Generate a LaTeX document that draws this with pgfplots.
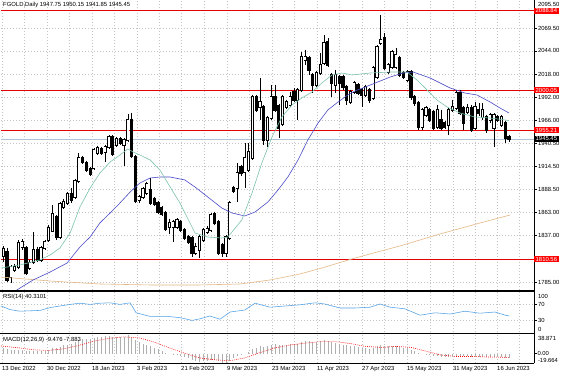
\documentclass[border=0pt]{standalone}
\usepackage{pgfplots}
\pgfplotsset{compat=1.18}
\usepackage{pgfplotstable}
\usepackage{fontspec}
\setmainfont{Liberation Sans}
\newcommand{\fs}{\fontsize{5.9pt}{6.5pt}\selectfont}
\definecolor{maTeal}{RGB}{125,195,175}
\definecolor{maBlue}{RGB}{75,75,200}
\definecolor{maTan}{RGB}{228,185,135}
\definecolor{rsiBlue}{RGB}{80,160,230}
\definecolor{gridc}{RGB}{195,195,195}
\definecolor{macdGray}{RGB}{175,175,175}
\definecolor{bidc}{RGB}{175,195,215}

\pgfplotstableread{
i O H L C
0 1814.2 1825.4 1807.5 1822.0
1 1818.7 1823.1 1785.1 1787.3
2 1790.7 1804.1 1783.9 1801.9
3 1798.5 1805.2 1796.3 1801.9
4 1801.9 1832.1 1799.6 1828.7
5 1824.3 1833.2 1820.9 1829.9
6 1823.1 1825.4 1792.9 1795.1
7 1800.7 1809.7 1798.5 1806.3
8 1807.5 1841.1 1805.2 1820.9
9 1820.9 1824.3 1807.5 1809.7
10 1809.7 1825.4 1807.5 1823.1
11 1823.1 1832.1 1820.9 1829.9
12 1832.1 1848.9 1829.9 1845.5
13 1842.2 1871.3 1841.1 1861.2
14 1857.9 1860.1 1832.1 1835.5
15 1835.5 1874.7 1833.2 1872.4
16 1869.1 1878.0 1866.8 1874.7
17 1873.5 1885.9 1871.3 1883.6
18 1883.6 1890.3 1873.5 1876.9
19 1880.3 1900.4 1878.0 1898.2
20 1898.2 1929.5 1895.9 1923.9
21 1923.9 1926.2 1917.2 1919.5
22 1918.3 1920.6 1908.3 1910.5
23 1911.6 1913.9 1903.8 1906.0
24 1912.7 1935.1 1910.5 1932.9
25 1929.5 1937.4 1927.3 1935.1
26 1934.0 1936.3 1927.3 1929.5
27 1930.7 1938.5 1919.5 1936.3
28 1936.3 1949.7 1934.0 1947.5
29 1947.5 1949.7 1926.2 1928.4
30 1938.5 1947.5 1936.3 1945.2
31 1945.2 1947.5 1938.5 1940.7
32 1938.5 1946.3 1915.0 1944.1
33 1944.1 1973.2 1941.9 1966.5
34 1966.5 1974.3 1923.9 1926.2
35 1925.1 1927.3 1873.5 1875.8
36 1876.9 1882.5 1873.5 1880.3
37 1880.3 1891.5 1878.0 1889.2
38 1884.7 1897.1 1882.5 1894.8
39 1888.1 1901.5 1871.3 1873.5
40 1878.0 1880.3 1870.2 1872.4
41 1873.5 1875.8 1861.2 1863.5
42 1867.9 1870.2 1859.0 1861.2
43 1862.3 1864.6 1842.2 1844.4
44 1846.6 1855.6 1838.8 1851.1
45 1846.6 1854.5 1829.9 1852.3
46 1846.6 1856.7 1844.4 1854.5
47 1852.3 1854.5 1841.1 1843.3
48 1843.3 1845.5 1832.1 1834.3
49 1835.5 1837.7 1827.6 1829.9
50 1834.3 1836.6 1813.1 1817.5
51 1817.5 1828.7 1815.3 1824.3
52 1820.9 1837.7 1811.9 1835.5
53 1832.1 1845.5 1829.9 1843.3
54 1841.1 1847.8 1838.8 1844.4
55 1843.3 1862.3 1841.1 1860.1
56 1861.2 1863.5 1848.9 1851.1
57 1852.3 1854.5 1815.3 1817.5
58 1826.5 1828.7 1813.1 1817.5
59 1817.5 1837.7 1813.1 1835.5
60 1834.3 1875.8 1832.1 1873.5
61 1890.3 1892.6 1884.7 1887.0
62 1890.3 1918.3 1874.7 1907.1
63 1913.9 1916.1 1903.8 1907.1
64 1908.3 1940.7 1890.3 1923.9
65 1910.5 1940.7 1908.3 1930.7
66 1923.9 1994.5 1921.7 1992.3
67 1992.3 1994.5 1975.5 1977.7
68 1981.1 2013.5 1966.5 1986.7
69 1981.1 1983.3 1938.5 1944.1
70 1944.1 1971.0 1936.3 1968.7
71 1968.7 2005.7 1966.5 1992.3
72 1992.3 2005.7 1975.5 1977.7
73 1982.2 1984.4 1946.3 1957.5
74 1962.0 1994.5 1960.0 1992.3
75 1981.1 1988.9 1978.8 1986.7
76 1983.3 1997.9 1981.1 1992.3
77 1997.9 2002.3 1986.7 1988.9
78 1988.9 2002.3 1966.5 2000.1
79 2000.1 2042.7 1997.9 2037.1
80 2033.7 2044.9 2028.1 2037.1
81 2035.9 2038.2 2016.9 2022.5
82 2016.9 2019.1 1996.7 2005.7
83 2005.7 2021.4 2003.5 2019.1
84 2019.1 2041.5 2016.9 2028.1
85 2030.3 2061.7 2028.1 2052.7
86 2053.9 2058.3 2025.9 2028.1
87 2016.9 2019.1 1992.3 2007.9
88 2005.7 2022.5 1996.7 2016.9
89 2014.6 2016.9 1983.3 2007.9
90 2014.6 2016.9 2000.1 2003.5
91 2003.5 2005.7 1983.3 1988.9
92 1986.7 2000.1 1984.4 1997.9
93 1997.9 2010.2 1995.6 2007.9
94 2005.7 2007.9 1994.5 1996.7
95 2000.1 2002.3 1981.1 1994.5
96 1994.5 2005.7 1992.3 2003.5
97 2000.1 2002.3 1985.5 1988.9
98 1991.1 2027.0 1988.9 2024.7
99 2014.6 2050.5 2012.4 2048.3
100 2052.7 2084.1 2050.5 2056.1
101 2058.3 2063.9 2022.5 2024.7
102 2020.3 2030.3 2018.0 2028.1
103 2025.9 2044.9 2023.6 2042.7
104 2025.9 2047.1 2023.6 2039.3
105 2035.9 2038.2 2014.6 2016.9
106 2019.1 2021.4 2012.4 2014.6
107 2011.3 2022.5 2009.1 2020.3
108 2020.3 2022.5 1988.9 1992.3
109 1992.3 1994.5 1982.2 1985.5
110 1985.5 1987.8 1955.3 1958.7
111 1958.7 1979.9 1955.3 1977.7
112 1972.1 1982.2 1969.9 1979.9
113 1977.7 1979.9 1964.3 1966.5
114 1975.5 1977.7 1955.3 1957.5
115 1958.7 1983.3 1956.4 1977.7
116 1966.5 1977.7 1955.3 1957.5
117 1963.1 1965.4 1956.4 1958.7
118 1960.9 1979.9 1949.7 1977.7
119 1977.7 1988.9 1975.5 1981.1
120 1979.9 2000.1 1977.7 1996.7
121 1996.7 2000.1 1972.1 1974.3
122 1979.9 1982.2 1955.3 1963.1
123 1975.5 1984.4 1973.2 1979.9
124 1979.9 1983.3 1953.1 1955.3
125 1957.5 1986.7 1955.3 1981.1
126 1977.7 1985.5 1971.0 1974.3
127 1969.9 1985.5 1966.5 1977.7
128 1969.9 1972.1 1951.9 1955.3
129 1966.5 1974.3 1963.1 1972.1
130 1957.5 1974.3 1936.3 1972.1
131 1969.9 1972.1 1964.3 1966.5
132 1960.9 1972.1 1958.7 1969.9
133 1963.1 1965.4 1940.8 1946.3
134 1947.75 1950.15 1941.85 1945.45
}\candles

\pgfplotstableread{
i m
0 12
1 10
2 8
3 7
4 8
5 8
6 6
7 5
8 6
9 5
10 5
11 6
12 8
13 11
14 11
15 14
16 17
17 19
18 21
19 24
20 28
21 30
22 31
23 31
24 33
25 35
26 35
27 36
28 37
29 35
30 35
31 34
32 34
33 38.871
34 35
35 28
36 24
37 21
38 19
39 15
40 12
41 9
42 6
43 2
44 0
45 -2
46 -3
47 -4
48 -7
49 -10
50 -14
51 -16
52 -17
53 -16
54 -15
55 -13
56 -13
57 -16
58 -19.664
59 -19
60 -15
61 -10
62 -6
63 -3
64 0
65 3
66 9
67 12
68 15
69 14
70 16
71 19
72 20
73 18
74 19
75 19
76 20
77 20
78 20
79 24
80 26
81 26
82 25
83 25
84 26
85 28
86 27
87 24
88 23
89 21
90 19
91 17
92 16
93 15
94 13
95 12
96 11
97 10
98 12
99 15
100 17
101 15
102 15
103 16
104 16
105 14
106 12
107 11
108 8
109 5
110 1
111 0
112 -1
113 -3
114 -5
115 -5
116 -7
117 -8
118 -7
119 -6
120 -4
121 -5
122 -6
123 -6
124 -8
125 -7
126 -7
127 -7
128 -8
129 -8
130 -8
131 -8
132 -8
133 -9
134 -9.476
}\macd

\pgfplotsset{
  mt/.style={
    scale only axis, width=533pt, xmin=-0.61, xmax=140.62,
    axis line style={draw=none}, clip=true,
    xtick={-0.34,11.58,23.50,35.43,47.09,59.28,71.20,83.12,95.05,106.97,119.16,130.82},
    minor xtick={5.62,17.54,29.47,41.26,53.19,65.24,77.16,89.09,101.01,113.07,124.99,136.8},
    xticklabels={}, xmajorgrids, xminorgrids,
    major grid style={gridc, dash pattern=on 1pt off 2pt, line width=0.4pt},
    minor grid style={gridc, dash pattern=on 1pt off 2pt, line width=0.4pt},
    xtick style={draw=none}, minor tick length=0pt,
    tick label style={font=\fs},
    /pgf/number format/assume math mode=true,
    ytick pos=right, yticklabel pos=right, tick align=outside,
    ytick style={black, line width=0.5pt}, major tick length=3pt,
    yticklabel style={anchor=west, inner xsep=0.8pt},
  },
  cndl/.style={only marks, mark=none, mark size=0pt, mark options={draw=none, fill=none}, forget plot,
    error bars/y dir=both, error bars/y explicit, error bars/error mark=none},
}

\begin{document}
\begin{tikzpicture}[x=1pt,y=1pt]
\useasboundingbox (0,0) rectangle (564,376);
\fill[white] (0,0) rectangle (564,376);

% ---------------- main price panel ----------------
\begin{axis}[mt, at={(1pt,375pt)}, anchor=north west, height=289pt,
  ymin=1776.06, ymax=2099.74,
  ytick={1785,1837,1863,1888.5,1914.5,1940.5,1966,1992,2018,2044,2069.5},
  ymajorgrids,
  yticklabel={\pgfmathprintnumber[fixed,fixed zerofill,precision=2,1000 sep={}]{\tick}},
]
% bid line and horizontal levels
\addplot[bidc, line width=0.5pt] coordinates {(-1,1945.45) (141,1945.45)};
\addplot[red!90!black, line width=0.7pt] coordinates {(-1,2088.84) (141,2088.84)};
\addplot[red!90!black, line width=0.7pt] coordinates {(-1,2000.05) (141,2000.05)};
\addplot[red!90!black, line width=0.7pt] coordinates {(-1,1955.21) (141,1955.21)};
\addplot[red!90!black, line width=0.7pt] coordinates {(-1,1810.56) (141,1810.56)};
% wicks
\addplot[black, cndl, error bars/error bar style={black, line width=0.6pt}]
  table[x=i, y=H, y error plus expr=0, y error minus expr=\thisrow{H}-\thisrow{L}] {\candles};
% body outlines / bear bodies
\addplot[black, cndl, error bars/error bar style={black, line width=3.2pt, line cap=butt}]
  table[x=i, y expr={max(\thisrow{O},\thisrow{C})+0.9}, y error plus expr=0, y error minus expr={abs(\thisrow{O}-\thisrow{C})+1.8}] {\candles};
% bull bodies (white inside)
\addplot[white, cndl, error bars/error bar style={white, line width=1.6pt, line cap=butt}]
  table[x=i, y=C, y error plus expr=0, y error minus expr={max(\thisrow{C}-\thisrow{O},0)}] {\candles};
% moving averages
\addplot[maTan, line width=0.6pt] coordinates {(-0.6,1790.6) (12.4,1786.1) (25.6,1782.8) (38.9,1781.7) (52.1,1781.7) (62.7,1782.8) (70.7,1787.3) (78.6,1794.0) (84.4,1800.7) (93.2,1811.9) (105.1,1825.4) (115.7,1838.8) (126.3,1851.1) (134.3,1860.1)};
\addplot[maBlue, line width=0.6pt] coordinates {(1.8,1769.4) (3.6,1776.1) (7.9,1787.3) (12.4,1796.2) (16.9,1806.3) (20.3,1824.2) (23.0,1835.4) (25.6,1851.2) (28.3,1862.3) (30.9,1873.5) (33.6,1885.8) (36.2,1895.9) (38.9,1901.5) (41.5,1902.6) (44.2,1902.6) (46.8,1900.4) (48.1,1899.3) (50.8,1891.4) (54.2,1880.2) (57.9,1867.9) (60.6,1862.3) (64.0,1859.0) (66.7,1863.4) (70.1,1874.6) (72.8,1888.1) (75.4,1902.6) (78.1,1921.7) (80.7,1944.1) (83.4,1963.1) (86.0,1977.7) (88.7,1986.6) (91.3,1994.5) (93.2,1999.0) (97.2,2005.6) (102.5,2014.6) (105.9,2019.1) (108.6,2020.2) (113.1,2013.5) (118.4,2002.3) (122.3,1996.7) (125.5,1994.5) (129.0,1986.6) (131.6,1979.9) (134.0,1974.3)};
\addplot[maTeal, line width=0.6pt] coordinates {(-0.6,1800.7) (4.4,1804.1) (9.7,1809.7) (12.4,1815.3) (15.0,1823.1) (17.7,1839.9) (20.3,1869.0) (23.0,1890.3) (25.6,1907.1) (28.3,1919.4) (30.9,1927.3) (33.0,1934.0) (34.4,1930.6) (36.2,1927.3) (38.9,1921.7) (41.5,1910.5) (44.2,1891.4) (46.8,1873.5) (50.8,1839.9) (54.2,1835.4) (57.9,1834.3) (59.5,1835.4) (63.2,1854.5) (65.9,1884.7) (68.5,1918.3) (71.2,1947.4) (73.8,1969.8) (76.5,1983.3) (79.1,1991.1) (81.8,1997.8) (84.4,2007.9) (87.1,2016.9) (89.7,2019.1) (92.4,2016.9) (97.2,2019.1) (102.5,2020.2) (107.0,2020.2) (109.6,2011.3) (112.3,2000.1) (114.9,1988.9) (117.6,1981.0) (121.0,1974.3) (125.0,1969.8) (129.0,1968.7) (133.0,1966.5) (134.0,1965.5)};
\coordinate (l1) at (axis cs:140.62,2088.84);
\coordinate (l2) at (axis cs:140.62,2000.05);
\coordinate (l3) at (axis cs:140.62,1955.21);
\coordinate (l4) at (axis cs:140.62,1810.56);
\coordinate (lb) at (axis cs:140.62,1945.45);
\coordinate (lt) at (axis cs:140.62,2095.5);
\end{axis}

% ---------------- RSI panel ----------------
\begin{axis}[mt, at={(1pt,84pt)}, anchor=north west, height=40pt,
  ymin=0, ymax=100, ytick={30,70}, yticklabels={30,70}, ymajorgrids]
\addplot[rsiBlue, line width=0.55pt] coordinates {(-0.6,65) (1.8,56) (4.4,52) (7.1,53) (9.7,54) (12.4,61) (15.0,65) (17.7,69) (20.3,72) (23.0,69) (25.6,72) (28.3,73) (30.9,69) (33.6,73) (35.2,48) (38.9,39) (43.4,39) (46.8,36) (50.0,29) (52.1,33) (54.7,40) (57.4,32) (60.1,50) (64.0,55) (66.7,72) (70.7,62) (74.6,65) (78.6,68) (82.6,73) (85.2,70) (89.2,60) (93.2,60) (97.2,62) (99.8,70) (102.5,62) (106.4,58) (110.4,42) (114.4,48) (118.4,45) (122.3,52) (126.3,47) (130.3,50) (133.0,42) (134.0,40.31)};
\end{axis}

% ---------------- MACD panel ----------------
\begin{axis}[mt, at={(1pt,41pt)}, anchor=north west, height=28pt,
  ymin=-19.664, ymax=38.871, ytick={0}, yticklabels={0.00},
  xticklabels={13 Dec 2022,30 Dec 2022,18 Jan 2023,3 Feb 2023,21 Feb 2023,9 Mar 2023,23 Mar 2023,11 Apr 2023,27 Apr 2023,15 May 2023,31 May 2023,16 Jun 2023},
  xtick pos=bottom, xtick style={black, line width=0.5pt}, major tick length=2.5pt,
  xticklabel style={anchor=north west, inner xsep=0pt, inner ysep=1pt},
]
\addplot[ycomb, macdGray, line width=0.6pt, mark=none] table[x=i, y=m] {\macd};
\addplot[red, line width=0.6pt, dash pattern=on 0.8pt off 1.2pt] coordinates {(-0.6,16) (4,12) (8,8) (12,6.5) (16,10) (20,17) (24,26) (28,32) (32,35) (36,33) (40,24) (44,12) (48,1) (52,-9) (56,-13) (60,-15) (64,-9) (68,2) (72,12) (76,18) (80,22) (84,25) (88,25) (92,21) (96,15) (100,13) (104,15) (108,13) (112,5) (116,-3) (120,-6) (124,-6) (128,-7) (134,-7.883)};
\end{axis}

% frame lines
\draw[black, line width=1.2pt] (0,85) -- (534,85);
\draw[black, line width=1.2pt] (0,42.5) -- (534,42.5);
\draw[black, line width=0.8pt] (0,13) -- (534,13);
\draw[black, line width=0.8pt] (534,376) -- (534,13);

% right-side labels
\node[anchor=west, font=\fs, inner sep=0.8pt, xshift=3pt] at (lt) {2095.50};
\node[anchor=west, font=\fs, fill=red, text=white, inner xsep=1.5pt, inner ysep=0.9pt] at (l1) {2088.84};
\node[anchor=west, font=\fs, fill=red, text=white, inner xsep=1.5pt, inner ysep=0.9pt] at (l2) {2000.05};
\node[anchor=west, font=\fs, fill=red, text=white, inner xsep=1.5pt, inner ysep=0.9pt] at (l3) {1955.21};
\node[anchor=west, font=\fs, fill=red, text=white, inner xsep=1.5pt, inner ysep=0.9pt] at (l4) {1810.56};
\node[anchor=west, font=\fs, fill=black, text=white, inner xsep=1.5pt, inner ysep=0.9pt] at (lb) {1945.45};
\node[anchor=west, font=\fs, inner sep=0.8pt] at (537,80) {100};
\node[anchor=west, font=\fs, inner sep=0.8pt] at (537,47) {0};
\node[anchor=west, font=\fs, inner sep=0.8pt] at (537,38) {38.871};
\node[anchor=west, font=\fs, inner sep=0.8pt] at (537,16) {-19.664};

% titles
\node[anchor=west, font=\fs, inner sep=0pt] at (3,371) {FGOLD,Daily  1947.75 1950.15 1941.85 1945.45};
\node[anchor=west, font=\fs, inner sep=0pt] at (3,79) {RSI(14) 40.3101};
\node[anchor=west, font=\fs, inner sep=0pt] at (3,36) {MACD(12,26,9) -9.476 -7.883};
\end{tikzpicture}
\end{document}
